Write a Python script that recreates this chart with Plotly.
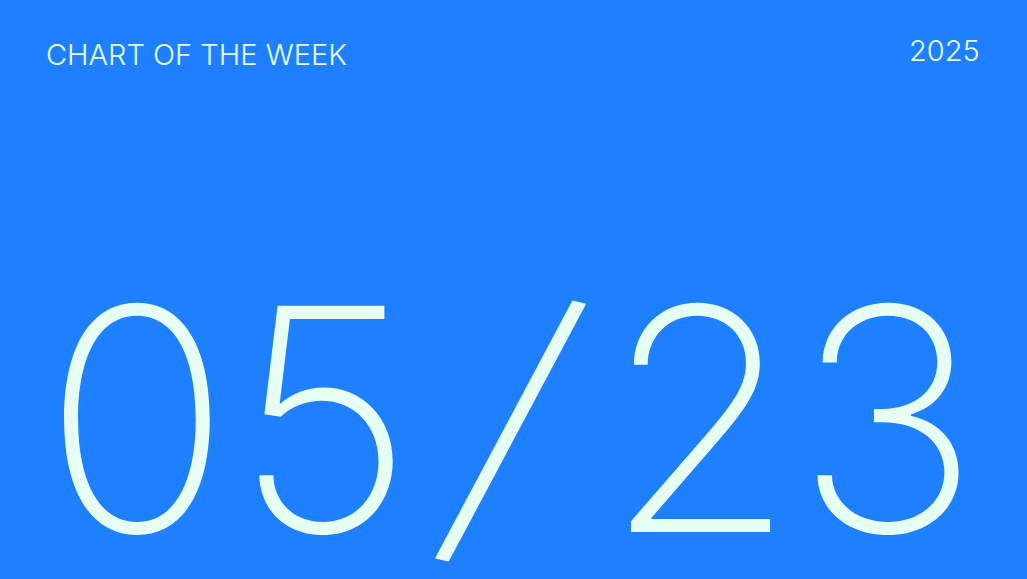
import plotly.graph_objects as go

# Title card texts
header_label = "CHART OF THE WEEK"
year_label = "2025"
week_date = "05/23"

# where each big glyph sits (centre, in pixels), its size and how much it leans
glyph_x = [137, 324, 513, 700, 887]
glyph_y = [419, 419, 419, 419, 419]
glyph_size = [311, 311, 324, 311, 311]
glyph_tilt = [0, 0, 13, 0, 0]

bg_blue = "#1f80ff"
mint = "#e6fff2"

fig = go.Figure()

fig.add_annotation(
    text=header_label, x=44, y=54, xref="x", yref="y",
    xanchor="left", yanchor="middle", showarrow=False,
    font=dict(family="Inter", size=29, color=mint, weight=300),
)
fig.add_annotation(
    text=year_label, x=982, y=50, xref="x", yref="y",
    xanchor="right", yanchor="middle", showarrow=False,
    font=dict(family="Inter", size=29, color=mint, weight=300),
)

for ch, gx, gy, gs, tilt in zip(week_date, glyph_x, glyph_y, glyph_size, glyph_tilt):
    fig.add_annotation(
        text=ch, x=gx, y=gy, xref="x", yref="y",
        xanchor="center", yanchor="middle", showarrow=False,
        textangle=tilt,
        font=dict(family="Inter", size=gs, color=mint, weight=200),
    )

fig.update_xaxes(range=[0, 1027], visible=False, fixedrange=True)
fig.update_yaxes(range=[579, 0], visible=False, fixedrange=True)

fig.update_layout(
    width=1027, height=579,
    margin=dict(l=0, r=0, t=0, b=0),
    paper_bgcolor=bg_blue, plot_bgcolor=bg_blue,
    showlegend=False,
)

fig.write_html(
    "out.html",
    config={"displayModeBar": False},
    post_script="document.body.style.margin='0';document.body.style.overflow='hidden';",
)
